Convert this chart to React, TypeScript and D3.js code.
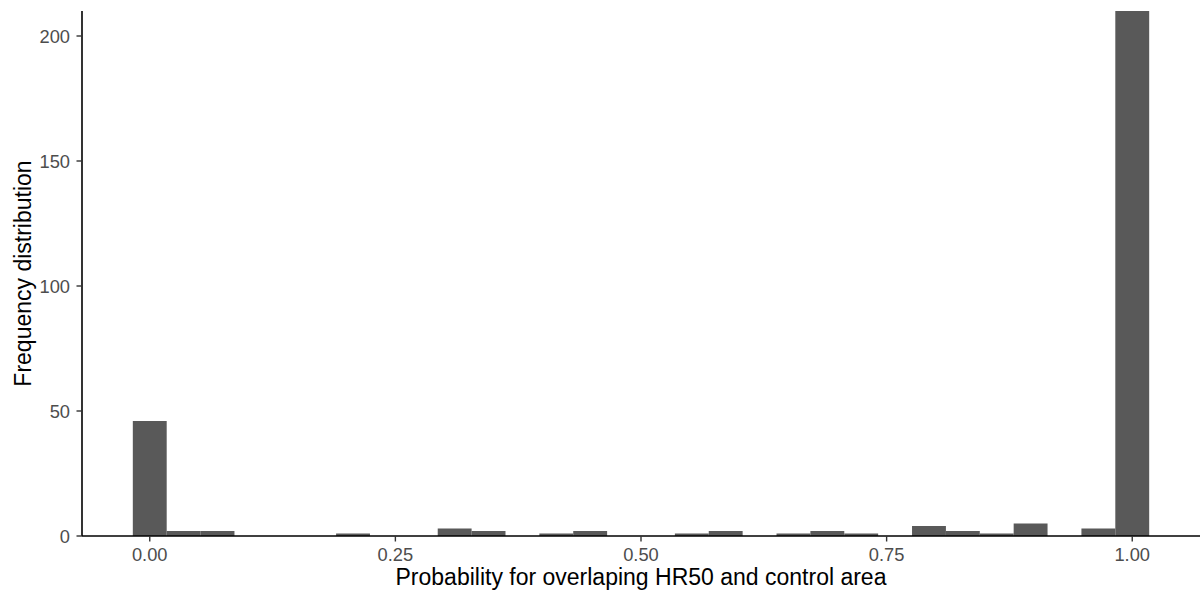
import React from "react";
import * as d3 from "d3";

const counts: number[] = [46, 2, 2, 0, 0, 0, 1, 0, 0, 3, 2, 0, 1, 2, 0, 0, 1, 2, 0, 1, 2, 1, 0, 4, 2, 1, 5, 0, 3, 210];
const xTicks: number[] = [0, 0.25, 0.5, 0.75, 1];
const yTicks: number[] = [0, 50, 100, 150, 200];
const xTitle = "Probability for overlaping HR50 and control area";
const yTitle = "Frequency distribution";

export default function App() {
  const W = 1201, H = 594;
  const left = 82, right = 1200, top = 11, bottom = 536;
  const bw = 1 / (counts.length - 1);
  const x = d3.scaleLinear().domain([-0.5 * bw - 0.05 * (1 + bw), 1 + 0.5 * bw + 0.05 * (1 + bw)]).range([left, right]);
  const y = d3.scaleLinear().domain([0, d3.max(counts) as number]).range([bottom, top]);
  const font = "'Liberation Sans', Arial, sans-serif";
  return (
    <svg width={W} height={H} style={{ position: "absolute", left: 0, top: 0 }}>
      <rect width={W} height={H} fill="#fff" />
      {counts.map((c, i) => {
        const x0 = x(i * bw - bw / 2), x1 = x(i * bw + bw / 2);
        return c > 0 ? (
          <rect key={i} x={x0} y={y(c)} width={x1 - x0} height={y(0) - y(c)} fill="#595959" />
        ) : null;
      })}
      <line x1={left} x2={left} y1={top} y2={bottom} stroke="#000" strokeWidth={1.6} />
      <line x1={left} x2={right} y1={bottom} y2={bottom} stroke="#000" strokeWidth={1.6} />
      {yTicks.map((t) => (
        <g key={t}>
          <line x1={left - 5.5} x2={left} y1={y(t)} y2={y(t)} stroke="#333" strokeWidth={1.4} />
          <text x={left - 12} y={y(t)} dy="0.36em" textAnchor="end" fontFamily={font} fontSize={18.3} fill="#4d4d4d">{t}</text>
        </g>
      ))}
      {xTicks.map((t) => (
        <g key={t}>
          <line x1={x(t)} x2={x(t)} y1={bottom} y2={bottom + 5.5} stroke="#333" strokeWidth={1.4} />
          <text x={x(t)} y={561} textAnchor="middle" fontFamily={font} fontSize={18.3} fill="#4d4d4d">{d3.format(".2f")(t)}</text>
        </g>
      ))}
      <text x={(left + right) / 2} y={585} textAnchor="middle" fontFamily={font} fontSize={23} fill="#000">{xTitle}</text>
      <text transform={`translate(31,${(top + bottom) / 2}) rotate(-90)`} textAnchor="middle" fontFamily={font} fontSize={23} fill="#000">{yTitle}</text>
    </svg>
  );
}
